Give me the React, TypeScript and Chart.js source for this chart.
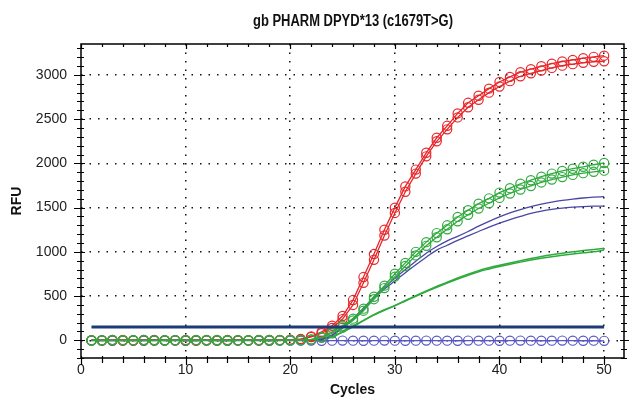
import React, { useEffect, useRef } from "react";
import { Chart, registerables } from "chart.js";

Chart.register(...registerables);

const TITLE = "gb PHARM DPYD*13 (c1679T>G)";
const X_TITLE = "Cycles";
const Y_TITLE = "RFU";

const cycles = [1, 2, 3, 4, 5, 6, 7, 8, 9, 10, 11, 12, 13, 14, 15, 16, 17, 18, 19, 20, 21, 22, 23, 24, 25, 26, 27, 28, 29, 30, 31, 32, 33, 34, 35, 36, 37, 38, 39, 40, 41, 42, 43, 44, 45, 46, 47, 48, 49, 50];

const redA = [2, -3, 1, 4, -2, 0, 3, -1, 2, -4, 1, 3, -2, 0, 2, -1, 4, 1, 3, 6, 14, 45, 95, 165, 275, 455, 715, 975, 1250, 1500, 1740, 1930, 2120, 2290, 2425, 2565, 2685, 2765, 2845, 2920, 2978, 3032, 3065, 3098, 3128, 3152, 3170, 3190, 3205, 3218];
const redB = [-1, 2, 3, -2, 1, 4, -1, 2, 0, 3, -2, 1, 2, 4, -1, 2, 0, 3, 2, 5, 12, 38, 80, 140, 240, 400, 650, 910, 1185, 1440, 1680, 1885, 2080, 2250, 2385, 2520, 2635, 2720, 2800, 2870, 2930, 2985, 3018, 3050, 3080, 3105, 3122, 3138, 3148, 3155];
const greenA = [-2, 1, 3, -1, 2, 0, -3, 1, 2, -1, 3, 0, -2, 1, 2, -1, 1, 3, 0, 2, 3, 10, 35, 95, 165, 245, 358, 492, 618, 752, 875, 1000, 1110, 1212, 1300, 1395, 1470, 1545, 1605, 1670, 1720, 1770, 1810, 1850, 1885, 1915, 1940, 1962, 1985, 2005];
const greenB = [1, -2, 0, 2, -1, 3, 1, -2, 0, 2, -1, 1, 3, -2, 0, 1, 2, -1, 2, 1, 2, 8, 28, 80, 145, 225, 335, 465, 590, 720, 840, 960, 1068, 1165, 1255, 1345, 1420, 1490, 1550, 1610, 1660, 1705, 1745, 1785, 1818, 1845, 1870, 1890, 1905, 1918];
const blueFlat = [-4, -3, -5, -4, -3, -5, -4, -4, -3, -5, -4, -3, -4, -5, -4, -3, -4, -5, -3, -4, -4, -3, -5, -4, -3, -4, -5, -4, -3, -4, -5, -4, -3, -4, -4, -5, -3, -4, -4, -5, -4, -3, -4, -5, -4, -3, -4, -5, -4, -6];
const blueLineA = [0, 1, 0, -1, 1, 0, 1, 0, -1, 0, 1, 0, 0, 1, 0, -1, 0, 1, 0, 1, 2, 5, 15, 60, 150, 245, 365, 490, 600, 702, 800, 895, 985, 1060, 1125, 1175, 1230, 1290, 1345, 1395, 1440, 1478, 1512, 1540, 1563, 1582, 1597, 1609, 1618, 1625];
const blueLineB = [0, 0, 1, 0, -1, 0, 1, 0, 0, -1, 0, 1, 0, 0, 1, 0, -1, 0, 1, 0, 2, 4, 12, 55, 140, 235, 350, 470, 580, 670, 765, 855, 940, 1020, 1075, 1130, 1180, 1230, 1280, 1325, 1365, 1400, 1435, 1460, 1480, 1495, 1505, 1512, 1516, 1518];
const greenLineA = [0, 1, 0, -1, 0, 1, 0, 0, 1, 0, -1, 0, 1, 0, 0, 1, 0, -1, 0, 1, 1, 3, 12, 40, 95, 158, 225, 290, 345, 395, 450, 505, 558, 608, 658, 705, 748, 788, 820, 848, 875, 900, 925, 948, 968, 985, 1000, 1015, 1028, 1040];
const greenLineB = [0, 0, 1, 0, -1, 0, 0, 1, 0, 0, -1, 1, 0, 0, 1, 0, 0, -1, 0, 1, 1, 3, 11, 38, 92, 155, 222, 286, 340, 390, 444, 498, 550, 600, 648, 694, 736, 775, 806, 834, 860, 884, 907, 928, 946, 962, 976, 989, 1000, 1020];
const thresholdX = [1, 50];
const thresholdY = [150, 150];

const xMajorTicks = [0, 10, 20, 30, 40, 50];
const yMajorTicks = [0, 500, 1000, 1500, 2000, 2500, 3000];

const RED = "rgb(232,38,42)";
const GREEN = "rgb(48,170,62)";
const BLUE_PT = "rgb(88,84,196)";
const BLUE_LN = "rgb(72,70,165)";
const NAVY = "rgb(28,58,118)";
const FONT = '"Liberation Sans", Arial, sans-serif';

function pts(xs: number[], ys: number[]) {
  return xs.map((x, i) => ({ x, y: ys[i] }));
}

const framePlugin = {
  id: "frame",
  afterDraw(chart: any) {
    const { ctx, chartArea, scales } = chart;
    const { left, right, top, bottom } = chartArea;
    const xs = scales.x;
    const ys = scales.y;
    ctx.save();
    ctx.strokeStyle = "#000";
    ctx.lineWidth = 1.5;
    ctx.strokeRect(left, top, right - left, bottom - top);
    ctx.lineWidth = 1.2;
    ctx.beginPath();
    for (let v = -200; v <= 3300; v += 100) {
      const py = Math.round(ys.getPixelForValue(v)) + 0.5;
      const major = yMajorTicks.includes(v);
      ctx.moveTo(left - (major ? 7 : 4), py);
      ctx.lineTo(left + (major ? 4 : 3), py);
      ctx.moveTo(right - (major ? 4 : 3), py);
      ctx.lineTo(right + (major ? 5 : 3), py);
    }
    for (let v = 0; v <= 51; v += 2) {
      const px = Math.round(xs.getPixelForValue(v)) + 0.5;
      const major = xMajorTicks.includes(v);
      ctx.moveTo(px, bottom - 2);
      ctx.lineTo(px, bottom + (major ? 7 : 5));
      ctx.moveTo(px, top);
      ctx.lineTo(px, top + (major ? 5 : 3));
    }
    ctx.stroke();

    ctx.fillStyle = "#111";
    ctx.textAlign = "center";
    ctx.textBaseline = "middle";
    // title (slightly condensed like the reference)
    ctx.save();
    ctx.font = "bold 16px " + FONT;
    const w = ctx.measureText(TITLE).width;
    const sx = 200 / w;
    ctx.translate(353, 22);
    ctx.scale(sx, 1);
    ctx.fillText(TITLE, 0, 0);
    ctx.restore();

    ctx.font = "bold 14px " + FONT;
    ctx.fillText(X_TITLE, (left + right) / 2, 390);
    ctx.translate(17, (top + bottom) / 2);
    ctx.rotate(-Math.PI / 2);
    ctx.fillText(Y_TITLE, 0, 0);
    ctx.restore();
  },
};

export default function App() {
  const ref = useRef<HTMLCanvasElement | null>(null);
  useEffect(() => {
    if (!ref.current) return;
    const circle = (label: string, ys: number[], color: string) => ({
      label,
      data: pts(cycles, ys),
      borderColor: color,
      backgroundColor: "rgba(0,0,0,0)",
      borderWidth: 1.3,
      pointRadius: 4.6,
      pointBorderWidth: 1.2,
      pointBorderColor: color,
      pointBackgroundColor: "rgba(0,0,0,0)",
      tension: 0,
    });
    const line = (label: string, ys: number[], color: string, w: number) => ({
      label,
      data: pts(cycles, ys),
      borderColor: color,
      backgroundColor: color,
      borderWidth: w,
      pointRadius: 0,
      cubicInterpolationMode: "monotone" as const,
    });
    const chart = new Chart(ref.current, {
      type: "line",
      data: {
        datasets: [
          {
            label: "Threshold",
            data: pts(thresholdX, thresholdY),
            borderColor: NAVY,
            borderWidth: 3,
            pointRadius: 0,
          },
          circle("Green A", greenA, GREEN),
          circle("Green B", greenB, GREEN),
          circle("Red A", redA, RED),
          circle("Red B", redB, RED),
          circle("NTC", blueFlat, BLUE_PT),
          line("Blue A", blueLineA, BLUE_LN, 1.3),
          line("Blue B", blueLineB, BLUE_LN, 1.3),
          line("Green line A", greenLineA, GREEN, 1.5),
          line("Green line B", greenLineB, GREEN, 1.5),
        ] as any,
      },
      options: {
        animation: false,
        responsive: false,
        maintainAspectRatio: false,
        devicePixelRatio: 1,
        events: [],
        layout: { padding: { top: 44, right: 6, left: 0, bottom: 0 } },
        plugins: { legend: { display: false }, tooltip: { enabled: false }, title: { display: false } },
        scales: {
          x: {
            type: "linear",
            min: 0,
            max: 51.9,
            afterFit: (s: any) => {
              s.height = 44;
            },
            afterBuildTicks: (s: any) => {
              s.ticks = xMajorTicks.map((v) => ({ value: v }));
            },
            ticks: {
              padding: 4,
              color: "#222",
              font: { family: FONT, size: 14 },
              maxRotation: 0,
              autoSkip: false,
              callback: (v: any) => String(v),
            },
            grid: {
              drawTicks: false,
              lineWidth: 1.5,
              color: (c: any) => (c.tick && c.tick.value !== 0 ? "#111" : "rgba(0,0,0,0)"),
            },
            border: { display: false, dash: [1.5, 7] },
          },
          y: {
            type: "linear",
            min: -200,
            max: 3350,
            afterFit: (s: any) => {
              s.width = 81;
            },
            afterBuildTicks: (s: any) => {
              s.ticks = yMajorTicks.map((v) => ({ value: v }));
            },
            ticks: {
              padding: 14,
              color: "#222",
              font: { family: FONT, size: 14 },
              autoSkip: false,
              callback: (v: any) => String(v),
            },
            grid: {
              drawTicks: false,
              lineWidth: 1.5,
              color: "#111",
            },
            border: { display: false, dash: [1.5, 7] },
          },
        },
      },
      plugins: [framePlugin],
    });
    return () => chart.destroy();
  }, []);
  return (
    <div style={{ position: "absolute", left: 0, top: 0, width: 630, height: 402, background: "#fff" }}>
      <canvas ref={ref} width={630} height={402} style={{ display: "block" }} />
    </div>
  );
}
